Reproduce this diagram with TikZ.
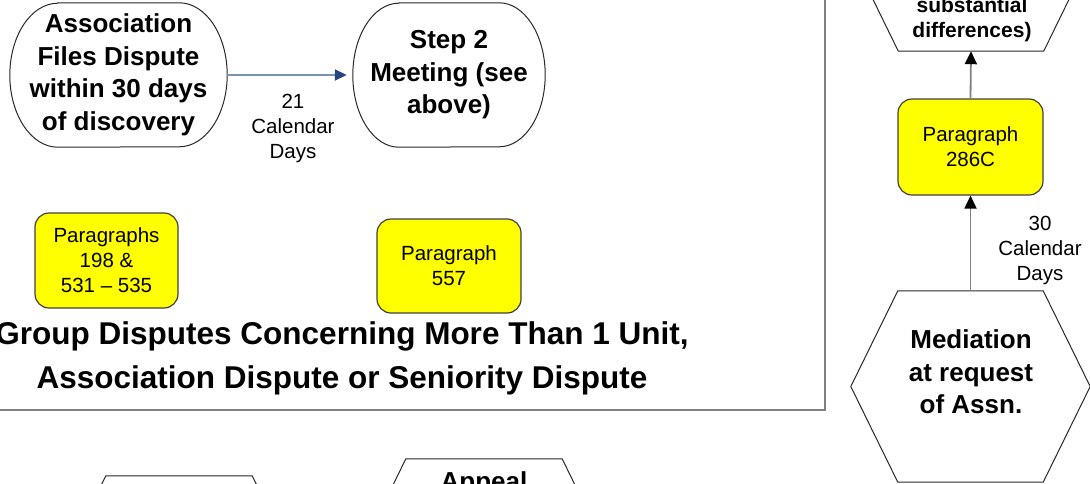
\documentclass[tikz,border=0pt]{standalone}
\usepackage{fontspec}
\setmainfont{Liberation Sans}
\usetikzlibrary{arrows.meta}
\definecolor{ParaYellow}{RGB}{255,255,0}
\definecolor{ParaEdge}{RGB}{64,64,64}
\definecolor{FrameGray}{RGB}{128,128,128}
\definecolor{LinkBlue}{RGB}{124,146,180}
\definecolor{TipBlue}{RGB}{38,70,128}
\definecolor{ShapeLine}{RGB}{40,40,40}
% outline of a hexagon round a node: node, inset of the top corners
\newcommand\hexoutline[2]{%
  \draw[shapeline] (#1.west) -- ([xshift=#2]#1.north west) -- ([xshift=-#2]#1.north east)
    -- (#1.east) -- ([xshift=-#2]#1.south east) -- ([xshift=#2]#1.south west) -- cycle;}
% outline of an oval round a node: node, x radius of the ends
\newcommand\ovaloutline[2]{%
  \draw[shapeline] ([xshift=#2]#1.north west) -- ([xshift=-#2]#1.north east)
    arc[start angle=90,end angle=-90,x radius=#2,y radius=72pt]
    -- ([xshift=#2]#1.south west)
    arc[start angle=270,end angle=90,x radius=#2,y radius=72pt] -- cycle;}

\begin{document}
\begin{tikzpicture}[x=1pt,y=1pt,
    shapeline/.style={draw=ShapeLine,line width=1pt},
    bigtxt/.style={font=\fontsize{26}{32.5}\selectfont\bfseries,align=center},
    smalltxt/.style={font=\fontsize{20.5}{25}\selectfont,align=center},
    parabox/.style={draw=ParaEdge,fill=ParaYellow,line width=1.2pt,rounded corners=14pt,smalltxt},
    holder/.style={inner sep=0pt,minimum height=192pt},
    uparrow/.style={draw=FrameGray,line width=1.8pt,-{Triangle[length=13pt,width=12pt,color=black]}}]
  \useasboundingbox (0,0) rectangle (1090,-483);
  \clip (0,0) rectangle (1090,-483);

  % group dispute panel
  \draw[FrameGray,line width=1.6pt] (-20,20) rectangle (825,-410);
  \node[bigtxt,inner sep=0pt,minimum width=217pt,minimum height=144pt] (assoc) at (118.5,-75)
    {Association\\Files Dispute\\within 30 days\\of discovery};
  \ovaloutline{assoc}{48pt}
  \node[bigtxt,inner sep=0pt,minimum width=192pt,minimum height=144pt] (step2) at (449,-75)
    {Step 2\\Meeting (see\\above)};
  \ovaloutline{step2}{46pt}
  \draw[draw=LinkBlue,line width=1.8pt,shorten >=6pt,
    -{Triangle[length=12pt,width=11pt,color=TipBlue]}] (assoc.east) -- (step2.west);
  \node[smalltxt] (days21) at (293,-128) {21\\Calendar\\Days};
  \node[parabox,minimum width=143pt,minimum height=95pt] (p198) at (106.5,-260.5)
    {Paragraphs\\198 \&\\531 -- 535};
  \node[parabox,minimum width=144pt,minimum height=94pt] (p557) at (449,-266)
    {Paragraph\\557};
  \node[font=\fontsize{31.5}{44}\selectfont\bfseries,align=center] (title) at (342,-358)
    {Group Disputes Concerning More Than 1 Unit,\\Association Dispute or Seniority Dispute};

  % mediation column
  \node[holder,minimum width=239pt] (subst) at (971,45) {};
  \hexoutline{subst}{47pt}
  \node[font=\fontsize{21}{25}\selectfont\bfseries,align=center] (substtxt) at (972,-19.5)
    {substantial\\differences)};
  \node[parabox,minimum width=145pt,minimum height=96pt] (p286) at (970.5,-147)
    {Paragraph\\286C};
  \node[holder,minimum width=239pt,minimum height=191pt] (med) at (970.5,-386.5) {};
  \hexoutline{med}{47pt}
  \node[bigtxt,text depth=0pt] (medtxt) at (971,-372) {Mediation\\at request\\of Assn.};
  \draw[uparrow] (med.north) -- (p286.south);
  \draw[uparrow] (p286.north) -- (subst.south);
  \node[smalltxt] (days30) at (1040,-250.5) {30\\Calendar\\Days};

  % next row
  \node[holder,minimum width=240pt] (lowleft) at (179,-572) {};
  \hexoutline{lowleft}{47pt}
  \node[holder,minimum width=250pt] (appeal) at (484,-555) {};
  \hexoutline{appeal}{47pt}
  \node[bigtxt,anchor=base] (appealtxt) at (484,-490.5) {Appeal};
\end{tikzpicture}
\end{document}
